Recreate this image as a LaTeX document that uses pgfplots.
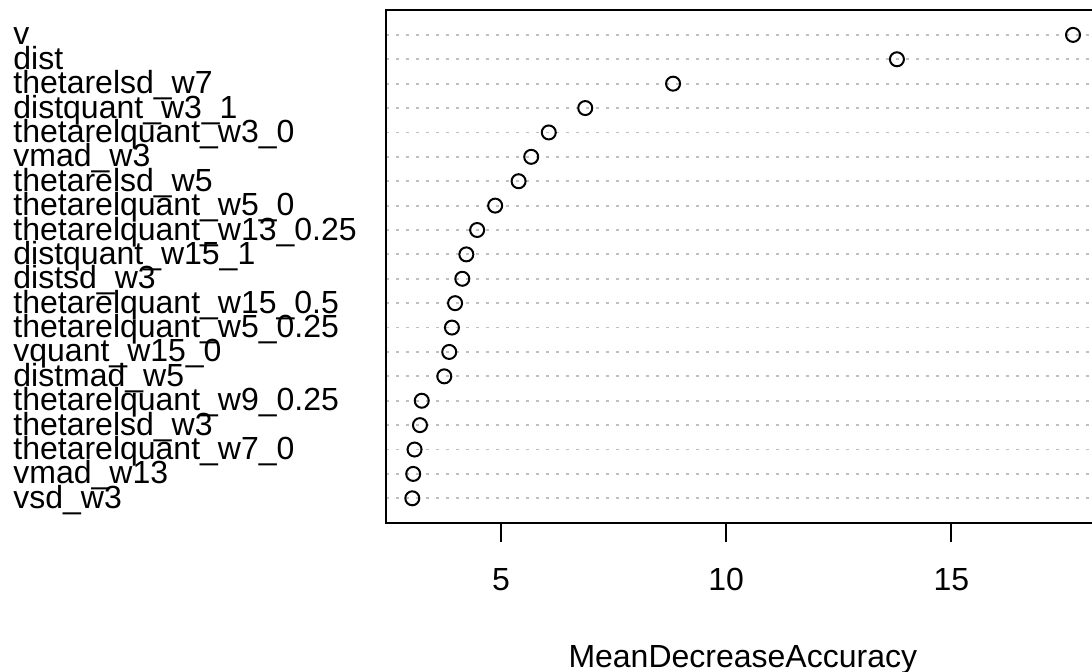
\documentclass[border=0pt]{standalone}
\usepackage{pgfplots}
\pgfplotsset{compat=1.18}
\usepackage{fontspec}
\setmainfont{Liberation Sans}
\pgfplotstableread{
y x
20 17.70
19 13.79
18 8.82
17 6.87
16 6.06
15 5.67
14 5.39
13 4.87
12 4.47
11 4.23
10 4.14
9 3.98
8 3.91
7 3.85
6 3.74
5 3.24
4 3.20
3 3.08
2 3.05
1 3.03
}\imp
\begin{document}
\begin{tikzpicture}[x=1pt,y=1pt]
\path[use as bounding box] (0,0) rectangle (546,336);
\clip (0,0) rectangle (546,336);
\begin{axis}[
  at={(193pt,74.65pt)}, anchor=south west,
  scale only axis, width=356.8pt, height=256.1pt,
  xmin=2.446, xmax=18.29, ymin=0, ymax=21,
  axis line style={line width=1pt, black},
  font=\fontsize{16}{16}\selectfont,
  /pgf/number format/assume math mode=true,
  xtick={5,10,15},
  xtick pos=bottom, xtick align=outside,
  major tick length=9.7pt,
  xtick style={line width=1pt, black},
  ytick={1,...,20},
  ytick style={draw=none},
  yticklabels={vsd\_w3, vmad\_w13, thetarelquant\_w7\_0, thetarelsd\_w3, thetarelquant\_w9\_0.25, distmad\_w5, vquant\_w15\_0, thetarelquant\_w5\_0.25, thetarelquant\_w15\_0.5, distsd\_w3, distquant\_w15\_1, thetarelquant\_w13\_0.25, thetarelquant\_w5\_0, thetarelsd\_w5, vmad\_w3, thetarelquant\_w3\_0, distquant\_w3\_1, thetarelsd\_w7, dist, v},
  yticklabel style={anchor=base west, inner sep=0pt, xshift=-186.5pt, yshift=-5pt},
  xticklabel style={anchor=base, inner sep=0pt, yshift=-24pt},
  ymajorgrids,
  major grid style={lightgray, line width=0.9pt, dash pattern=on 1.5pt off 3.5pt},
  xlabel={MeanDecreaseAccuracy},
  xlabel style={at={(axis description cs:0.5,0)}, anchor=base, inner sep=0pt, yshift=-72.2pt},
  clip=false,
]
\addplot[only marks, mark=o, mark size=3.5pt, mark options={line width=1pt, black}] table[x=x,y=y] {\imp};
\end{axis}
\end{tikzpicture}
\end{document}
